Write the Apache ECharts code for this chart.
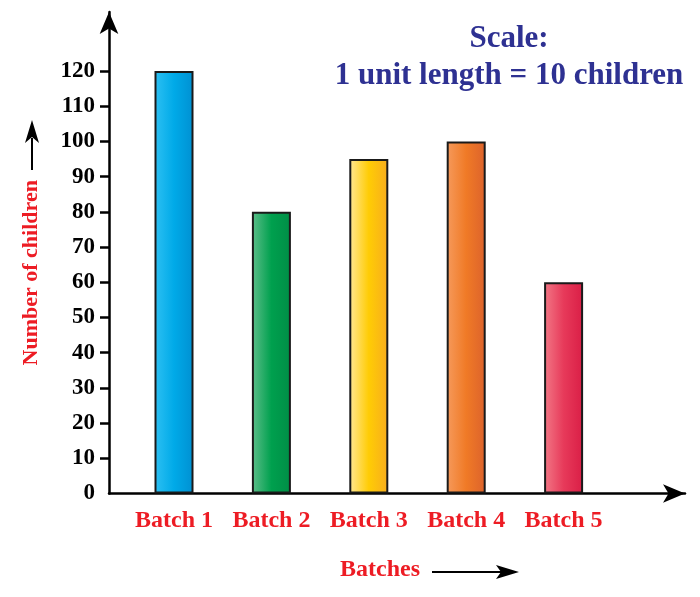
<!DOCTYPE html>
<html>
<head>
<meta charset="utf-8">
<script src="https://cdn.jsdelivr.net/npm/echarts@6/dist/echarts.min.js"></script>
<style>html,body{margin:0;padding:0;background:#fff;}#c{width:700px;height:597px;}</style>
</head>
<body>
<div id="c"></div>
<script>
const categories = ['Batch 1', 'Batch 2', 'Batch 3', 'Batch 4', 'Batch 5'];
const children = [120, 80, 95, 100, 60];
const tickValues = [10, 20, 30, 40, 50, 60, 70, 80, 90, 100, 110, 120];
const labelValues = [0, 10, 20, 30, 40, 50, 60, 70, 80, 90, 100, 110, 120];
const barLight = ['#2EC0F2', '#5DBE8A', '#FFE796', '#F69A5C', '#F27886'];
const barMid = ['#00AAE8', '#00A04E', '#FFCC05', '#F07A26', '#E73A5A'];
const barDark = ['#0090D2', '#008E46', '#F7AC1E', '#DC622C', '#DA1E46'];
const titleText = 'Scale:\n1 unit length = 10 children';
const xName = 'Batches';
const yName = 'Number of children';

const serif = '"Liberation Serif", "DejaVu Serif", serif';
const red = '#ED1C24';
const yMax = 136.75;

const chart = echarts.init(document.getElementById('c'), null, {renderer: 'canvas'});
chart.setOption({
  backgroundColor: '#fff',
  animation: false,
  grid: [
    {left: 125.3, width: 487, top: 12, bottom: 103.5},
    {left: 109, right: 15, top: 12, bottom: 103.5}
  ],
  xAxis: [
    {
      type: 'category', gridIndex: 0, data: categories,
      axisLine: {show: false}, axisTick: {show: false},
      axisLabel: {interval: 0, color: red, fontFamily: serif, fontWeight: 'bold', fontSize: 24, margin: 15}
    },
    {
      type: 'value', gridIndex: 1, min: 0, max: 1,
      axisLine: {show: true, symbol: ['none', 'arrow'], symbolSize: [14, 22], lineStyle: {color: '#000', width: 2.5}},
      axisTick: {show: false}, axisLabel: {show: false}, splitLine: {show: false},
      name: xName, nameLocation: 'middle', nameGap: 64.5,
      nameTextStyle: {color: red, fontFamily: serif, fontWeight: 'bold', fontSize: 24, padding: [0, 34, 0, 0]}
    }
  ],
  yAxis: [
    {type: 'value', gridIndex: 0, min: 0, max: yMax, show: false},
    {
      type: 'value', gridIndex: 1, min: 0, max: yMax,
      axisLine: {show: true, symbol: ['none', 'arrow'], symbolSize: [14, 22], lineStyle: {color: '#000', width: 2.5}},
      axisTick: {show: true, customValues: tickValues, length: 9, lineStyle: {color: '#000', width: 2.5}},
      axisLabel: {customValues: labelValues, color: '#000', fontFamily: serif, fontWeight: 'bold', fontSize: 23, margin: 14},
      splitLine: {show: false},
      name: yName, nameLocation: 'middle', nameRotate: 90, nameGap: 67,
      nameTextStyle: {color: red, fontFamily: serif, fontWeight: 'bold', fontSize: 22, padding: [0, 40, 0, 0]}
    }
  ],
  series: [{
    type: 'bar', xAxisIndex: 0, yAxisIndex: 0, barWidth: 39,
    data: children.map((v, i) => ({
      value: v,
      itemStyle: {
        color: new echarts.graphic.LinearGradient(0, 0, 1, 0, [
          {offset: 0, color: barLight[i]},
          {offset: 0.5, color: barMid[i]},
          {offset: 1, color: barDark[i]}
        ]),
        borderColor: '#1a1a1a', borderWidth: 2
      }
    }))
  }],
  graphic: [
    {
      type: 'text', x: 509, y: 20,
      style: {text: titleText, textAlign: 'center', fill: '#2E3192', font: 'bold 31px ' + serif, lineHeight: 37}
    },
    {type: 'line', shape: {x1: 32, y1: 170, x2: 32, y2: 138}, style: {stroke: '#000', lineWidth: 2}},
    {type: 'polygon', shape: {points: [[32, 120], [25, 143], [32, 137], [39, 143]]}, style: {fill: '#000'}},
    {type: 'line', shape: {x1: 432, y1: 572, x2: 505, y2: 572}, style: {stroke: '#000', lineWidth: 2}},
    {type: 'polygon', shape: {points: [[519, 572], [496, 565], [501, 572], [496, 579]]}, style: {fill: '#000'}}
  ]
});
</script>
</body>
</html>
